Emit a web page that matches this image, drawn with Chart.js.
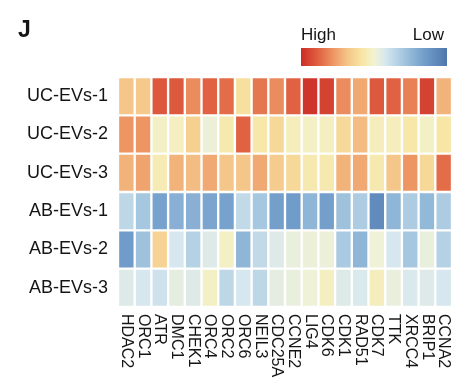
<!DOCTYPE html>
<html>
<head>
<meta charset="utf-8">
<script src="https://cdn.jsdelivr.net/npm/chart.js@4"></script>
<style>
  html, body { margin: 0; padding: 0; background: #fff; }
  #wrap { width: 474px; height: 387px; position: relative; }
</style>
</head>
<body>
<div id="wrap"><canvas id="heat"></canvas></div>
<script>
// --- Data (relative expression, 1 = high, 0 = low) ---
const genes = ['HDAC2', 'ORC1', 'ATR', 'DMC1', 'CHEK1', 'ORC4', 'ORC2', 'ORC6', 'NEIL3', 'CDC25A',
               'CCNE2', 'LIG4', 'CDK6', 'CDK1', 'RAD51', 'CDK7', 'TTK', 'XRCC4', 'BRIP1', 'CCNA2'];
const samples = ['UC-EVs-1', 'UC-EVs-2', 'UC-EVs-3', 'AB-EVs-1', 'AB-EVs-2', 'AB-EVs-3'];

const ucEvs1 = [0.68, 0.67, 0.90, 0.90, 0.80, 0.88, 0.86, 0.60, 0.84, 0.80, 0.88, 0.98, 0.95, 0.80, 0.74, 0.90, 0.88, 0.82, 0.95, 0.72];
const ucEvs2 = [0.78, 0.78, 0.52, 0.53, 0.65, 0.48, 0.56, 0.88, 0.57, 0.62, 0.54, 0.52, 0.53, 0.62, 0.70, 0.54, 0.54, 0.57, 0.52, 0.58];
const ucEvs3 = [0.72, 0.75, 0.55, 0.72, 0.70, 0.74, 0.68, 0.68, 0.74, 0.66, 0.62, 0.56, 0.56, 0.72, 0.74, 0.56, 0.68, 0.78, 0.62, 0.86];
const abEvs1 = [0.36, 0.30, 0.17, 0.22, 0.22, 0.18, 0.17, 0.37, 0.30, 0.16, 0.15, 0.24, 0.16, 0.28, 0.32, 0.08, 0.24, 0.32, 0.25, 0.32];
const abEvs2 = [0.15, 0.28, 0.64, 0.42, 0.34, 0.44, 0.52, 0.24, 0.37, 0.44, 0.47, 0.48, 0.48, 0.31, 0.24, 0.49, 0.42, 0.30, 0.47, 0.34];
const abEvs3 = [0.44, 0.42, 0.40, 0.46, 0.44, 0.52, 0.36, 0.42, 0.36, 0.46, 0.47, 0.49, 0.53, 0.44, 0.43, 0.54, 0.47, 0.43, 0.44, 0.42];
const rows = [ucEvs1, ucEvs2, ucEvs3, abEvs1, abEvs2, abEvs3];

// --- Colour scale (low blue -> pale yellow -> high red) ---
const colorStops = [
    [0.00, [78, 120, 172]],
    [0.15, [112, 156, 202]],
    [0.30, [165, 199, 223]],
    [0.42, [214, 231, 239]],
    [0.50, [243, 243, 210]],
    [0.58, [247, 230, 164]],
    [0.68, [245, 198, 137]],
    [0.78, [237, 150, 100]],
    [0.88, [224, 98, 66]],
    [1.00, [204, 44, 38]]
];

function colorFor(v) {
    for (let i = 1; i < colorStops.length; i++) {
        const [v1, c1] = colorStops[i];
        const [v0, c0] = colorStops[i - 1];
        if (v <= v1) {
            const t = (v - v0) / (v1 - v0);
            const c = c0.map((x, k) => Math.round(x + (c1[k] - x) * t));
            return `rgb(${c[0]},${c[1]},${c[2]})`;
        }
    }
    const c = colorStops[colorStops.length - 1][1];
    return `rgb(${c[0]},${c[1]},${c[2]})`;
}

const FONT = 'Arial, "Liberation Sans", sans-serif';
const nRows = samples.length;

// --- Datasets: one floating-bar row per sample ---
const datasets = rows.map((vals, i) => ({
    label: samples[i],
    data: vals.map(() => [nRows - 1 - i, nRows - i]),
    backgroundColor: vals.map(colorFor),
    borderColor: '#ffffff',
    borderWidth: 1.5,
    borderSkipped: false,
    grouped: false,
    barPercentage: 1,
    categoryPercentage: 1
}));

// --- Plugin: gene labels (rotated clockwise), colour key and panel letter ---
const extrasPlugin = {
    id: 'extras',
    afterDraw(chart) {
        const ctx = chart.ctx;
        const xScale = chart.scales.x;
        const area = chart.chartArea;

        ctx.save();
        ctx.fillStyle = '#151515';
        ctx.font = `16px ${FONT}`;
        ctx.textAlign = 'left';
        ctx.textBaseline = 'middle';
        genes.forEach((g, i) => {
            const x = xScale.getPixelForValue(i);
            ctx.save();
            ctx.translate(x, area.bottom + 7);
            ctx.rotate(Math.PI / 2);
            ctx.fillText(g, 0, 0);
            ctx.restore();
        });
        ctx.restore();

        // colour key
        const kx = 301, ky = 48, kw = 146, kh = 18;
        const grad = ctx.createLinearGradient(kx, 0, kx + kw, 0);
        colorStops.forEach(([v, c]) => {
            grad.addColorStop(1 - v, `rgb(${c[0]},${c[1]},${c[2]})`);
        });
        ctx.save();
        ctx.fillStyle = grad;
        ctx.fillRect(kx, ky, kw, kh);
        ctx.fillStyle = '#151515';
        ctx.font = `17px ${FONT}`;
        ctx.textBaseline = 'alphabetic';
        ctx.textAlign = 'left';
        ctx.fillText('High', kx, 40);
        ctx.textAlign = 'right';
        ctx.fillText('Low', kx + kw - 3, 40);

        // panel letter
        ctx.font = `bold 23px ${FONT}`;
        ctx.textAlign = 'left';
        ctx.fillText('J', 18, 37);
        ctx.restore();
    }
};

const ctx = document.getElementById('heat').getContext('2d');
new Chart(ctx, {
    type: 'bar',
    data: { labels: genes, datasets: datasets },
    options: {
        responsive: true,
        maintainAspectRatio: false,
        animation: false,
        events: [],
        layout: { padding: { top: 77, right: 22, bottom: 80, left: 0 } },
        plugins: {
            legend: { display: false },
            tooltip: { enabled: false }
        },
        scales: {
            x: {
                display: false,
                offset: true
            },
            y: {
                min: 0,
                max: nRows,
                grid: { display: false, drawTicks: false },
                border: { display: false },
                afterFit(scale) { scale.width = 118; },
                afterBuildTicks(scale) {
                    scale.ticks = samples.map((s, i) => ({ value: nRows - 0.5 - i }));
                },
                ticks: {
                    padding: 10,
                    color: '#151515',
                    font: { family: FONT, size: 18 },
                    callback: (value) => samples[Math.round(nRows - 0.5 - value)]
                }
            }
        }
    },
    plugins: [extrasPlugin]
});
</script>
</body>
</html>
